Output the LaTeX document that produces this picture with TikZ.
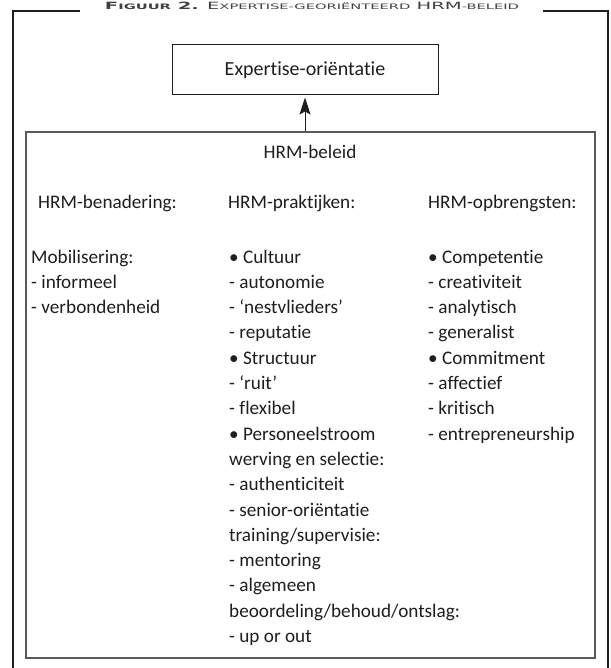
\documentclass[tikz,border=0pt]{standalone}
\usepackage{fontspec}
\usepackage{graphicx}
\setmainfont{Carlito}[Ligatures={NoCommon,NoContextual}]
\newfontfamily\titlefont{DejaVu Sans}
\usetikzlibrary{arrows.meta}
\definecolor{ink}{HTML}{1E1E1E}
\definecolor{boxgray}{HTML}{5A5A5A}
\newcommand\tbig[1]{{\fontsize{10}{10}\selectfont #1}}
\newcommand\tsml[1]{{\fontsize{7.5}{7.5}\selectfont #1}}
\begin{document}
\begin{tikzpicture}[x=1pt,y=-1pt,
  frame/.style={draw=ink, line width=1.1pt},
  txt/.style={anchor=base west, inner sep=0pt, text=ink, font=\fontsize{19.2}{23}\selectfont},
  expbox/.style={draw=ink, line width=1pt, minimum width=266pt, minimum height=50pt, inner sep=0pt, text=ink, font=\fontsize{20}{24}\selectfont},
  policybox/.style={draw=boxgray, line width=1.6pt, minimum width=569pt, minimum height=526pt, inner sep=0pt},
  uparrow/.style={draw=ink, line width=1pt, -{Stealth[length=17pt,width=11pt,inset=3pt]}, shorten >=2pt}
]
\useasboundingbox (0,0) rectangle (610,668);
% outer frame with title gap
\draw[frame] (80,11) -- (13,11) -- (13,668);
\draw[frame] (543,11) -- (608,11) -- (608,668);
\node[anchor=base, inner sep=0pt, text=ink!85] (title) at (312,9.5) {\titlefont\resizebox{414pt}{\height}{%
  {\bfseries\tbig{F}\tsml{IGUUR}\tbig{ 2.}}\tbig{ E}\tsml{XPERTISE-GEORIËNTEERD}\tbig{ HRM}\tsml{-BELEID}}};
% boxes
\node[expbox] (exp) at (305,70) {Expertise-oriëntatie};
\node[policybox] (hrm) at (310.5,395) {};
\draw[uparrow] (hrm.north -| exp.south) -- (exp.south);
% texts
\node[txt, anchor=base] (beleid) at (310,159) {HRM-beleid};
\node[txt] (h1) at (38,208) {HRM-benadering:};
\node[txt] (h2) at (228,208) {HRM-praktijken:};
\node[txt] (h3) at (428,208) {HRM-opbrengsten:};
\foreach \t [count=\i] in {{Mobilisering:},{- informeel},{- verbondenheid}}
  \node[txt] (l\i) at (31,{263+(\i-1)*25.3}) {\t};
\foreach \t [count=\i] in {{• Cultuur},{- autonomie},{- ‘nestvlieders’},{- reputatie},{• Structuur},{- ‘ruit’},{- flexibel},{• Personeelstroom},{werving en selectie:},{- authenticiteit},{- senior-oriëntatie},{training/supervisie:},{- mentoring},{- algemeen},{beoordeling/behoud/ontslag:},{- up or out}}
  \node[txt] (m\i) at (229,{263+(\i-1)*25.3}) {\t};
\foreach \t [count=\i] in {{• Competentie},{- creativiteit},{- analytisch},{- generalist},{• Commitment},{- affectief},{- kritisch},{- entrepreneurship}}
  \node[txt] (r\i) at (428,{263+(\i-1)*25.3}) {\t};
\end{tikzpicture}
\end{document}
